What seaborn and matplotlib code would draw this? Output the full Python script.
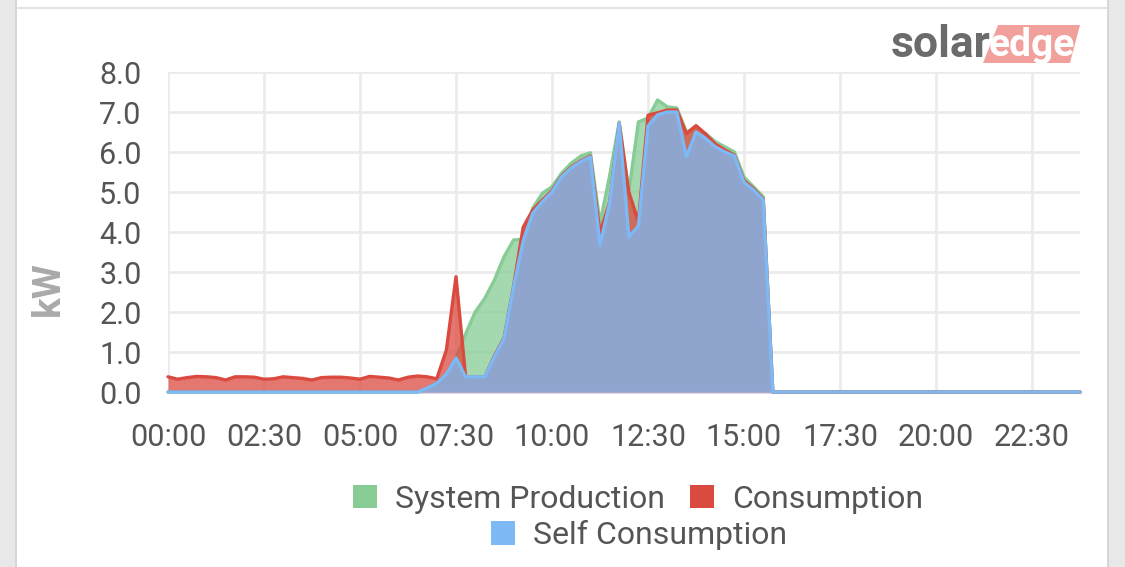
import numpy as np
import pandas as pd
import matplotlib
matplotlib.use("Agg")
import matplotlib.pyplot as plt
import seaborn as sns
from matplotlib.patches import Patch, Rectangle, Polygon

# 15-minute readings in kW, 00:00 .. 23:45
production = [0] * 27 + [
    0.10, 0.22, 0.45, 0.85, 1.45, 2.00, 2.34, 2.80, 3.38, 3.80,
    3.82, 4.60, 4.97, 5.13, 5.47, 5.72, 5.90, 5.98, 4.22, 5.40,
    6.75, 5.00, 6.75, 6.85, 7.30, 7.13, 7.10, 6.50, 6.60, 6.46,
    6.26, 6.13, 6.00, 5.37, 5.13, 4.88,
] + [0] * 33

consumption = [
    0.38, 0.32, 0.36, 0.39, 0.38, 0.36, 0.30, 0.38, 0.38, 0.37,
    0.32, 0.33, 0.38, 0.36, 0.34, 0.30, 0.36, 0.37, 0.37, 0.35,
    0.32, 0.39, 0.37, 0.35, 0.30, 0.37, 0.40, 0.38, 0.33, 1.05,
    2.88, 0.38, 0.38, 0.38, 0.90, 1.35, 2.65, 4.12, 4.55, 4.80,
    5.03, 5.40, 5.62, 5.78, 5.90, 3.97, 4.75, 6.72, 5.00, 4.26,
    6.92, 6.98, 7.05, 7.05, 6.46, 6.66, 6.45, 6.20, 6.05, 5.92,
    5.28, 5.08, 4.82,
] + [0] * 33

self_consumption = [0] * 27 + [
    0.10, 0.22, 0.45, 0.85, 0.38, 0.38, 0.38, 0.88, 1.33, 2.63,
    3.78, 4.47, 4.76, 5.00, 5.38, 5.60, 5.76, 5.88, 3.67, 4.72,
    6.72, 3.88, 4.15, 6.65, 6.93, 7.00, 7.00, 5.88, 6.50, 6.34,
    6.13, 6.00, 5.90, 5.24, 5.05, 4.80,
] + [0] * 33

tick_labels = ["00:00", "02:30", "05:00", "07:30", "10:00",
               "12:30", "15:00", "17:30", "20:00", "22:30"]
series_names = ["System Production", "Consumption", "Self Consumption"]

hours = np.arange(len(production)) * 0.25
df = pd.DataFrame({
    "hour": hours,
    series_names[0]: production,
    series_names[1]: consumption,
    series_names[2]: self_consumption,
})

sns.set_style("white")
plt.rcParams["font.family"] = ["Roboto", "DejaVu Sans"]

line_colors = ["#86cc94", "#db4a3f", "#7cb9f5"]

fig = plt.figure(figsize=(11.25, 5.67), dpi=100)
ax = fig.add_axes([168 / 1125, 1 - 392 / 567, (1080 - 168) / 1125, (392 - 72) / 567])

for i, name in enumerate(series_names):
    ax.fill_between(df["hour"], 0, df[name], color=line_colors[i],
                    alpha=0.75, lw=0, zorder=2 + 2 * i)
    sns.lineplot(data=df, x="hour", y=name, ax=ax, color=line_colors[i],
                 lw=2.4, zorder=3 + 2 * i, clip_on=False)

ax.set_xlim(0, 23.75)
ax.set_ylim(0, 8)
ax.set_xticks(np.arange(len(tick_labels)) * 2.5)
ax.set_xticklabels(tick_labels)
ax.set_yticks(range(9))
ax.set_yticklabels([f"{v:.1f}" for v in range(9)])
ax.tick_params(axis="both", length=0, labelsize=22, labelcolor="#555555")
ax.tick_params(axis="x", pad=22)
ax.tick_params(axis="y", pad=19)
ax.set_xlabel("")
ax.set_ylabel("")
ax.grid(True, color="#ebebeb", lw=2)
ax.set_axisbelow(True)
for side in ["top", "right", "left"]:
    ax.spines[side].set_visible(False)
ax.spines["bottom"].set_color("#ccd6eb")
ax.spines["bottom"].set_linewidth(2)

fig.text(48 / 1125, 1 - 289 / 567, "kW", rotation=90, ha="center", va="center",
         fontsize=28, fontweight="bold", color="#aaaaaa")

# legend, two centred rows
handles = [Patch(facecolor=c, edgecolor="none") for c in line_colors]
fig.legend(handles[:2], series_names[:2], loc="center",
           bbox_to_anchor=(638 / 1125, 1 - 499 / 567), ncol=2,
           frameon=False, fontsize=23, handlelength=0.75, handleheight=0.75,
           handletextpad=0.55, columnspacing=0.8, labelcolor="#555555")
fig.legend(handles[2:], series_names[2:], loc="center",
           bbox_to_anchor=(639 / 1125, 1 - 535 / 567),
           frameon=False, fontsize=23, handlelength=0.75, handleheight=0.75,
           handletextpad=0.55, labelcolor="#555555")

# logo
fig.text(891 / 1125, 1 - 57 / 567, "solar", fontsize=32, fontweight="bold",
         color="#6b6b6b", ha="left", va="baseline")
fig.patches.append(Polygon(
    [(983 / 1125, 1 - 63 / 567), (998 / 1125, 1 - 25 / 567),
     (1080 / 1125, 1 - 25 / 567), (1070 / 1125, 1 - 63 / 567)],
    closed=True, facecolor="#f2a09b", edgecolor="none", transform=fig.transFigure))
fig.text(989 / 1125, 1 - 56 / 567, "edge", fontsize=28, fontweight="bold",
         color="white", ha="left", va="baseline")

# card frame
fig.patches.append(Rectangle((0, 0), 15 / 1125, 1, facecolor="#e8e8e8",
                             edgecolor="none", transform=fig.transFigure))
fig.patches.append(Rectangle((15 / 1125, 0), 2 / 1125, 1, facecolor="#d6d6d6",
                             edgecolor="none", transform=fig.transFigure))
fig.patches.append(Rectangle((1107 / 1125, 0), 18 / 1125, 1, facecolor="#e8e8e8",
                             edgecolor="none", transform=fig.transFigure))
fig.patches.append(Rectangle((1107 / 1125, 0), 2 / 1125, 1, facecolor="#d6d6d6",
                             edgecolor="none", transform=fig.transFigure))
fig.patches.append(Rectangle((17 / 1125, 1 - 9 / 567), 1090 / 1125, 2 / 567,
                             facecolor="#e2e2e2", edgecolor="none",
                             transform=fig.transFigure))

fig.savefig("out.png", dpi=100)
